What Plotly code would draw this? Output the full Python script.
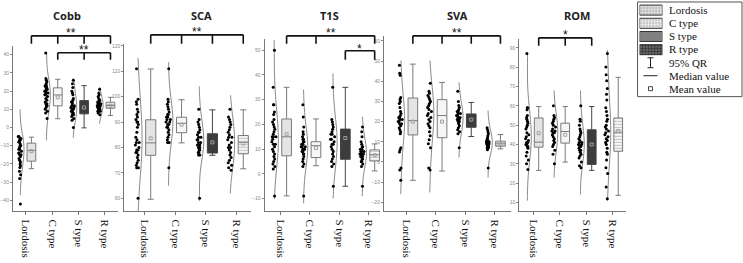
import plotly.graph_objects as go

W, H = 743, 263

categories = ["Lordosis", "C type", "S type", "R type"]
titles = ["Cobb", "SCA", "T1S", "SVA", "ROM"]
legend_labels = ["Lordosis", "C type", "S type", "R type", "95% QR", "Median value", "Mean value"]

# ---------------- individual values ----------------
cobb_L = [-5, -5, -6, -6, -7, -7, -8, -8, -9, -10, -10, -11, -12, -12, -13, -14, -14, -15, -15, -16, -17, -18, -19, -20, -21, -22, -24, -26, -28, -42]
cobb_C = [41, 27, 26, 25, 24, 23, 23, 22, 22, 21, 21, 20, 20, 19, 19, 18, 18, 17, 16, 15, 14, 13, 13, 12, 12, 11, 10, 9, 8, 5]
cobb_S = [26, 24, 22, 20, 19, 18, 16, 15, 14, 14, 13, 12, 12, 11, 11, 10, 10, 9, 9, 8, 8, 7, 7, 6, 5, 4, 0]
cobb_R = [21, 19, 18, 17, 16, 15, 15, 14, 14, 14, 13, 13, 13, 12, 12, 12, 12, 11, 11, 11, 10, 10, 10, 9, 9, 8, 7]

sca_L = [111, 99, 98, 97, 95, 94, 93, 92, 91, 90, 90, 89, 88, 86, 84, 83, 82, 82, 81, 80, 79, 79, 78, 78, 77, 76, 75, 74, 73, 72, 72, 60]
sca_C = [111, 99, 98, 97, 96, 95, 94, 93, 93, 92, 92, 91, 91, 90, 90, 89, 89, 88, 88, 87, 86, 85, 84, 83, 82, 82, 72]
sca_S = [95, 91, 90, 89, 88, 87, 86, 86, 85, 84, 84, 83, 83, 82, 82, 81, 81, 80, 80, 79, 79, 78, 78, 77, 77, 60]
sca_R = [95, 92, 91, 90, 89, 88, 87, 86, 85, 84, 84, 83, 82, 81, 80, 80, 79, 78, 77, 76, 75, 74, 73, 72, 71]

t1s_L = [50, 35, 28, 28, 25, 24, 22, 21, 20, 19, 18, 17, 16, 15, 15, 15, 14, 13, 12, 12, 11, 10, 9, 8, 7, 6, 5, 4, 3, 2, -9]
t1s_C = [28, 23, 19, 17, 16, 15, 14, 14, 13, 13, 12, 12, 12, 11, 11, 11, 10, 10, 10, 9, 9, 8, 8, 7, 6, 5, 4, 3, -9]
t1s_S = [35, 22, 21, 20, 19, 18, 17, 16, 16, 15, 14, 14, 13, 12, 12, 11, 10, 9, 8, 7, 6, 5, 4, 3, -5]
t1s_R = [19, 17, 15, 13, 12, 11, 11, 10, 10, 10, 9, 9, 9, 8, 8, 8, 8, 7, 7, 7, 6, 6, 5, 5, 4, 3, -5]

sva_L = [48, 44, 43, 32, 31, 30, 29, 27, 25, 24, 23, 22, 22, 21, 21, 20, 20, 19, 19, 18, 17, 16, 15, 14, 7, 6, 5, -3, -4, -9]
sva_C = [39, 35, 34, 33, 32, 31, 30, 29, 28, 27, 26, 25, 24, 23, 22, 21, 20, 19, 18, 17, 15, 13, 11, 9, 7, -3, -4]
sva_S = [35, 30, 28, 27, 26, 25, 25, 24, 24, 23, 23, 22, 22, 21, 21, 20, 20, 19, 18, 17, 16, 15, 14, 7]
sva_R = [17, 16, 15, 14, 13, 12, 11, 11, 10, 10, 10, 9, 9, 9, 9, 8, 8, 8, 8, 7, 7, 7, 6, -3]

rom_L = [87, 59, 59, 58, 55, 54, 53, 52, 51, 50, 49, 48, 46, 45, 44, 43, 42, 41, 41, 40, 40, 39, 39, 38, 36, 34, 32, 30, 27]
rom_C = [60, 55, 54, 53, 52, 51, 50, 49, 48, 47, 47, 46, 46, 45, 44, 43, 42, 41, 40, 39, 37, 35, 30]
rom_S = [60, 53, 52, 50, 48, 47, 46, 45, 44, 43, 42, 41, 41, 40, 40, 39, 39, 38, 37, 37, 36, 35, 34, 33, 31, 29, 28]
rom_R = [87, 80, 76, 73, 69, 66, 63, 59, 57, 55, 53, 52, 50, 49, 48, 47, 46, 45, 44, 43, 42, 41, 40, 38, 36, 35, 32, 28, 25, 18, 12]

# ---------------- box statistics ----------------
cobb_q1 = [-18.5, 11.9, 7.5, 10.6]
cobb_med = [-12.6, 17.9, 9.7, 12.1]
cobb_q3 = [-8.6, 21.8, 14.8, 13.9]
cobb_lo = [-22.6, 4.8, -0.2, 6.6]
cobb_hi = [-5.3, 26.5, 23.0, 16.6]
cobb_mean = [-13.0, 16.6, 11.0, 12.0]
cobb_span_lo = [-37, -7, -5.5, 2.2]
cobb_span_hi = [10, 40.5, 26.8, 21.9]

sca_q1 = [76.9, 85.8, 77.8, 77.5]
sca_med = [81.8, 89.5, 81.8, 82.0]
sca_q3 = [90.9, 91.9, 85.4, 84.7]
sca_lo = [59.6, 81.8, 76.9, 71.6]
sca_hi = [110.9, 98.8, 94.8, 94.8]
sca_mean = [83.6, 89.0, 82.0, 81.5]
sca_span_lo = [54, 65, 59, 62]
sca_span_hi = [115, 113.5, 104, 100.4]

t1s_q1 = [7.3, 6.6, 5.9, 5.2]
t1s_med = [15.0, 11.4, 11.4, 7.7]
t1s_q3 = [22.2, 13.0, 18.1, 9.7]
t1s_lo = [-8.9, 3.3, -5.0, 1.2]
t1s_hi = [35.0, 22.2, 35.0, 12.1]
t1s_mean = [16.0, 10.5, 14.5, 7.5]
t1s_span_lo = [-10, -11.8, -9.8, -9]
t1s_span_hi = [54, 34, 40.5, 23]

sva_q1 = [13.4, 12.0, 17.2, 7.8]
sva_med = [20.5, 23.0, 21.3, 9.0]
sva_q3 = [31.7, 30.9, 23.8, 10.3]
sva_lo = [-9.1, -4.5, 12.6, 6.5]
sva_hi = [48.5, 39.4, 29.5, 13.6]
sva_mean = [20.0, 20.0, 21.0, 9.0]
sva_span_lo = [-15.7, -15, 2.3, -7.6]
sva_span_hi = [50, 50, 39.3, 25.4]

rom_q1 = [38.6, 40.7, 29.7, 36.5]
rom_med = [41.2, 46.7, 40.4, 46.3]
rom_q3 = [53.7, 51.0, 47.6, 53.7]
rom_lo = [26.6, 30.9, 26.6, 13.7]
rom_hi = [59.6, 59.6, 59.6, 74.7]
rom_mean = [45.8, 45.0, 40.0, 47.0]
rom_span_lo = [11, 23, 14.2, 11]
rom_span_hi = [87, 67.8, 67.8, 88.5]

# y tick values per panel
cobb_ticks = [-40, -30, -20, -10, 0, 10, 20, 30, 40]
sca_ticks = [60, 70, 80, 90, 100, 110, 120]
t1s_ticks = [-10, 0, 10, 20, 30, 40, 50]
sva_ticks = [-20, -10, 0, 10, 20, 30, 40, 50, 60]
rom_ticks = [10, 20, 30, 40, 50, 60, 70, 80, 90]

# significance brackets: (panel, categories joined, label)
sig_groups = [(0, [0, 1, 2, 3], "**"), (0, [1, 2, 3], "**"), (1, [0, 1, 2, 3], "**"),
              (2, [0, 1, 3], "**"), (2, [2, 3], "*"), (3, [0, 1, 2, 3], "**"), (4, [0, 1, 2], "*")]

panels = [
    dict(pts=[cobb_L, cobb_C, cobb_S, cobb_R], q1=cobb_q1, med=cobb_med, q3=cobb_q3, lo=cobb_lo, hi=cobb_hi,
         mean=cobb_mean, slo=cobb_span_lo, shi=cobb_span_hi, ticks=cobb_ticks),
    dict(pts=[sca_L, sca_C, sca_S, sca_R], q1=sca_q1, med=sca_med, q3=sca_q3, lo=sca_lo, hi=sca_hi,
         mean=sca_mean, slo=sca_span_lo, shi=sca_span_hi, ticks=sca_ticks),
    dict(pts=[t1s_L, t1s_C, t1s_S, t1s_R], q1=t1s_q1, med=t1s_med, q3=t1s_q3, lo=t1s_lo, hi=t1s_hi,
         mean=t1s_mean, slo=t1s_span_lo, shi=t1s_span_hi, ticks=t1s_ticks),
    dict(pts=[sva_L, sva_C, sva_S, sva_R], q1=sva_q1, med=sva_med, q3=sva_q3, lo=sva_lo, hi=sva_hi,
         mean=sva_mean, slo=sva_span_lo, shi=sva_span_hi, ticks=sva_ticks),
    dict(pts=[rom_L, rom_C, rom_S, rom_R], q1=rom_q1, med=rom_med, q3=rom_q3, lo=rom_lo, hi=rom_hi,
         mean=rom_mean, slo=rom_span_lo, shi=rom_span_hi, ticks=rom_ticks),
]

# ---------------- styling / geometry ----------------
geom = [
    dict(xpx=(9, 115), xr=(-0.49, 3.51), ytop=45, yr=(-46.0, 44.9)),
    dict(xpx=(121, 248), xr=(-0.645, 3.45), ytop=43, yr=(54.9, 120.8)),
    dict(xpx=(262, 378), xr=(-0.54, 3.39), ytop=38, yr=(-15.1, 54.6)),
    dict(xpx=(382, 510), xr=(-0.78, 3.58), ytop=35, yr=(-24.4, 62.5)),
    dict(xpx=(518, 625), xr=(-0.525, 3.49), ytop=38, yr=(5.5, 94.6)),
]
YBOT = 211
bandwidths = [[6, 6, 6, 4], [12, 7, 6, 6], [8, 7, 8, 5], [10, 10, 6, 5], [8, 7, 7, 12]]
title_x = [63, 199, 327, 456, 576]
VIOL_OFF, BOX_OFF, BOX_W = -0.22, 0.21, 0.33
box_fill = ["#e4e4e4", "#f6f6f6", "#3c3c3c", "rgba(0,0,0,0)"]
box_line = ["#7a7a7a", "#7a7a7a", "#444444", "#7a7a7a"]
bracket_px = [(35, 43, 32), (52, 59, 49), (34, 43, 31), (35, 43, 32), (50, 59, 48), (35, 43, 32), (37, 45, 34)]


def px_x(p):
    return p / W


def px_y(p):
    return 1 - p / H


fig = go.Figure()
layout = dict(width=W, height=H, margin=dict(l=0, r=0, t=0, b=0), plot_bgcolor="white",
              paper_bgcolor="white", showlegend=False)
shapes, annotations = [], []

for k, (p, g) in enumerate(zip(panels, geom)):
    n = "" if k == 0 else str(k + 1)
    xa, ya = "x" + n, "y" + n
    layout["xaxis" + n] = dict(domain=[px_x(g["xpx"][0]), px_x(g["xpx"][1])], range=list(g["xr"]), anchor=ya,
                               tickmode="array", tickvals=[0, 1, 2, 3], ticktext=categories, tickangle=90,
                               showline=True, linecolor="#777", linewidth=1, ticks="outside", ticklen=3,
                               tickcolor="#777", showgrid=False, zeroline=False, ticklabelstandoff=2,
                               tickfont=dict(family="Liberation Serif", size=11, color="#111"))
    layout["yaxis" + n] = dict(domain=[px_y(YBOT), px_y(g["ytop"])], range=list(g["yr"]), anchor=xa,
                               tickmode="array", tickvals=p["ticks"], showline=True, linecolor="#777",
                               linewidth=1, ticks="outside", ticklen=2, tickcolor="#888", showgrid=False,
                               zeroline=False, tickfont=dict(family="Liberation Sans", size=5, color="#888"))
    for i in range(4):
        vals = p["pts"][i]
        fig.add_trace(go.Violin(x=[i + VIOL_OFF] * len(vals), y=vals, xaxis=xa, yaxis=ya, side="positive",
                                width=0.3, spanmode="manual", span=[p["slo"][i], p["shi"][i]],
                                bandwidth=bandwidths[k][i], fillcolor="rgba(0,0,0,0)",
                                line=dict(color="#8a8a8a", width=1), points="all", pointpos=0, jitter=0.5,
                                marker=dict(color="black", size=3), hoverinfo="skip"))
        if i == 3:
            fig.add_trace(go.Bar(x=[i + BOX_OFF], y=[p["q3"][i] - p["q1"][i]], base=[p["q1"][i]], width=BOX_W,
                                 xaxis=xa, yaxis=ya,
                                 marker=dict(color="white", line=dict(width=0),
                                             pattern=dict(shape="-", fgcolor="#8a8a8a", bgcolor="white",
                                                          size=3, solidity=0.45, fillmode="overlay"))))
        fig.add_trace(go.Box(x=[i + BOX_OFF], q1=[p["q1"][i]], median=[p["med"][i]], q3=[p["q3"][i]],
                             lowerfence=[p["lo"][i]], upperfence=[p["hi"][i]], width=BOX_W, whiskerwidth=0.6,
                             boxpoints=False, fillcolor=box_fill[i], line=dict(color=box_line[i], width=1),
                             xaxis=xa, yaxis=ya, hoverinfo="skip"))
    fig.add_trace(go.Scatter(x=[i + BOX_OFF for i in range(4)], y=p["mean"], mode="markers", xaxis=xa, yaxis=ya,
                             marker=dict(symbol="square-open", size=3, color="#a0a0a0", line=dict(width=1))))
    annotations.append(dict(text="<b>" + titles[k] + "</b>", x=px_x(title_x[k]), y=px_y(15), xref="paper",
                            yref="paper", showarrow=False, xanchor="center", yanchor="middle",
                            font=dict(family="Noto Sans", size=11, color="#222")))

# significance brackets
for (k, cats, lab), (yl, yt, ys) in zip(sig_groups, bracket_px):
    n = "" if k == 0 else str(k + 1)
    xa = "x" + n
    x0, x1 = cats[0] + BOX_OFF, cats[-1] + BOX_OFF
    shapes.append(dict(type="line", xref=xa, yref="paper", x0=x0, x1=x1, y0=px_y(yl), y1=px_y(yl),
                       line=dict(color="#111", width=1.6)))
    for c in cats:
        shapes.append(dict(type="line", xref=xa, yref="paper", x0=c + BOX_OFF, x1=c + BOX_OFF, y0=px_y(yl),
                           y1=px_y(yt), line=dict(color="#111", width=1.6)))
    annotations.append(dict(text=lab, x=(x0 + x1) / 2, y=px_y(ys), xref=xa, yref="paper", showarrow=False,
                            xanchor="center", yanchor="middle",
                            font=dict(family="Liberation Sans", size=12, color="#111")))

# legend
shapes.append(dict(type="rect", xref="paper", yref="paper", x0=px_x(637), x1=px_x(742), y0=px_y(96), y1=px_y(1),
                   line=dict(color="#555", width=1)))
legend_pattern = dict(shape=[".", ".", "|", "."], fgcolor=["#888", "#bbb", "#111", "white"],
                      bgcolor=["#e8e8e8", "#f6f6f6", "#666", "#111"], size=[3, 3, 2, 3],
                      solidity=[0.3, 0.3, 0.5, 0.5], fillmode="overlay")
fig.add_trace(go.Bar(orientation="h", y=[0, 1, 2, 3], x=[1, 1, 1, 1], width=0.76, xaxis="x6", yaxis="y6",
                     marker=dict(color=["#e8e8e8", "#f4f4f4", "#555555", "#111"],
                                 line=dict(color="#333", width=1), pattern=legend_pattern)))
layout["xaxis6"] = dict(domain=[px_x(639), px_x(662)], range=[0, 1], visible=False, anchor="y6")
layout["yaxis6"] = dict(domain=[px_y(55.5), px_y(2.5)], range=[3.5, -0.5], visible=False, anchor="x6")

leg_y = [9, 22, 35, 48, 62, 75, 88]
for lab, yy in zip(legend_labels, leg_y):
    annotations.append(dict(text=lab, x=px_x(667), y=px_y(yy), xref="paper", yref="paper", showarrow=False,
                            xanchor="left", yanchor="middle",
                            font=dict(family="Liberation Serif", size=11, color="#111")))
for (a, b, c, d) in [(650, 57, 650, 67), (647, 57, 653, 57), (647, 67, 653, 67), (643, 75, 657, 75)]:
    shapes.append(dict(type="line", xref="paper", yref="paper", x0=px_x(a), y0=px_y(b), x1=px_x(c), y1=px_y(d),
                       line=dict(color="#222", width=1)))
shapes.append(dict(type="rect", xref="paper", yref="paper", x0=px_x(648), x1=px_x(652), y0=px_y(90), y1=px_y(86),
                   line=dict(color="#444", width=1)))

layout["shapes"] = shapes
layout["annotations"] = annotations
fig.update_layout(**layout)
fig.update_layout(barmode="overlay", violinmode="overlay", boxmode="overlay")
fig.write_html("out.html", config={"displayModeBar": False},
               post_script="document.body.style.margin='0px';")
